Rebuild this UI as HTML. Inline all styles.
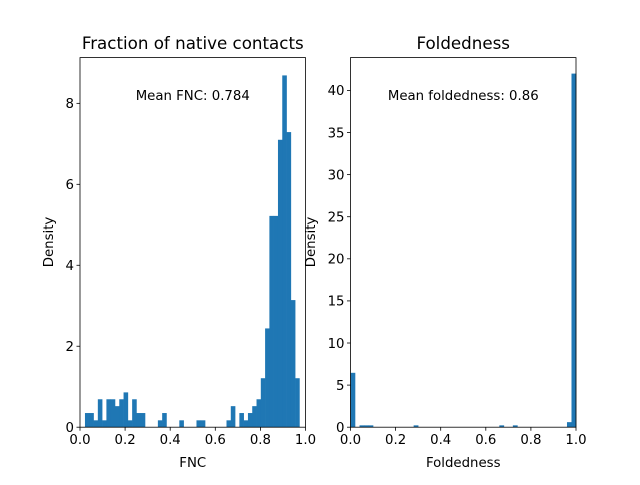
<!DOCTYPE html>
<html><head><meta charset="utf-8"><style>body{margin:0;background:#fff}svg{font-family:"DejaVu Sans","Liberation Sans",sans-serif}</style></head>
<body>
<svg id="fig" width="640" height="480"></svg>
<script>
const fncDensity=[0.35,0.35,0.17,0.69,0.17,0.69,0.69,0.52,0.69,0.86,0.17,0.69,0.35,0.35,0,0,0,0.17,0.35,0,0,0,0.17,0,0,0,0.17,0.17,0,0,0,0,0,0.17,0.52,0,0.35,0.17,0.35,0.52,0.69,1.21,2.44,5.22,5.22,7.1,8.69,7.29,3.14,1.21];
const fncRange=[0.022,0.973];
const foldDensity=[6.46,0,0.22,0.22,0.22,0,0,0,0,0,0,0,0,0,0.22,0,0,0,0,0,0,0,0,0,0,0,0,0,0,0,0,0,0,0.22,0,0,0.22,0,0,0,0,0,0,0,0,0,0,0,0.6,42];
const foldRange=[0,1];
const xTicks=["0.0","0.2","0.4","0.6","0.8","1.0"];
const leftYTicks=[0,2,4,6,8];
const rightYTicks=[0,5,10,15,20,25,30,35,40];
const svg=document.getElementById('fig');
const NS='http://www.w3.org/2000/svg';
function mk(t,a,p){const e=document.createElementNS(NS,t);for(const k in a)e.setAttribute(k,a[k]);(p||svg).appendChild(e);return e;}
function panel(x0,x1,ymax,dens,range,yt,title,xl,mean,name){
  const y0=427.2,y1=57.6;
  const g=mk('g',{});
  
  
  const sx=v=>x0+(v)*(x1-x0);
  const sy=v=>y0-v/ymax*(y0-y1);
  const n=dens.length,w=(range[1]-range[0])/n;
  dens.forEach((d,i)=>{if(d<=0)return;
    const a=sx(range[0]+i*w),b=sx(range[0]+(i+1)*w);
    const r=mk('rect',{x:a,y:sy(d),width:b-a+0.3,height:y0-sy(d),fill:'#1f77b4'},g);
    
    });
  mk('rect',{x:x0,y:y1,width:x1-x0,height:y0-y1,fill:'none',stroke:'#000','stroke-width':0.8},g);
  xTicks.forEach((t,i)=>{const x=sx(i/5);
    mk('line',{x1:x,x2:x,y1:y0,y2:y0+3.5,stroke:'#000','stroke-width':0.8},g);
    const tx=mk('text',{x:x,y:y0+17,'font-size':13.3,'text-anchor':'middle'},g);tx.textContent=t;
    
    });
  yt.forEach(v=>{const y=sy(v);
    mk('line',{x1:x0-3.5,x2:x0,y1:y,y2:y,stroke:'#000','stroke-width':0.8},g);
    const tx=mk('text',{x:x0-6,y:y+4.8,'font-size':13.3,'text-anchor':'end'},g);tx.textContent=v;
    
    });
  const ti=mk('text',{x:(x0+x1)/2,y:49,'font-size':16.7,'text-anchor':'middle'},g);ti.textContent=title;
  
  
  const xlab=mk('text',{x:(x0+x1)/2,y:467,'font-size':13.3,'text-anchor':'middle'},g);xlab.textContent=xl;
  
  
  const yx=name==='fnc'?53:315;
  const ylab=mk('text',{x:yx,y:242,'font-size':13.3,'text-anchor':'middle',transform:`rotate(-90 ${yx} 242)`},g);ylab.textContent='Density';
  
  
  const m=mk('text',{x:(x0+x1)/2,y:100,'font-size':13.3,'text-anchor':'middle'},g);m.textContent=mean;
  
  
}
panel(80,305.5,9.13,fncDensity,fncRange,leftYTicks,'Fraction of native contacts','FNC','Mean FNC: 0.784','fnc');
panel(350.5,576,43.9,foldDensity,foldRange,rightYTicks,'Foldedness','Foldedness','Mean foldedness: 0.86','foldedness');
</script>
</body></html>
